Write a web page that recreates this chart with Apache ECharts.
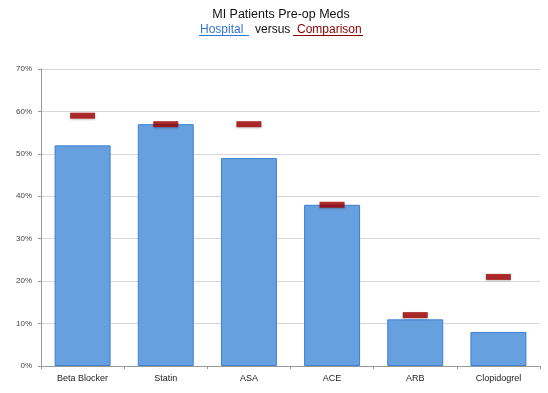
<!DOCTYPE html>
<html><head><meta charset="utf-8">
<script src="https://cdn.jsdelivr.net/npm/echarts@6/dist/echarts.min.js"></script>
<style>html,body{margin:0;padding:0;background:#fff}#c{width:548px;height:393px}</style>
</head><body><div id="c"></div>
<script>
var categories = ['Beta Blocker','Statin','ASA','ACE','ARB','Clopidogrel'];
var hospital = [52, 57, 49, 38, 11, 8];
var comparison = [59, 57, 57, 38, 12, 21];
var yTicks = [0,10,20,30,40,50,60,70];

var chart = echarts.init(document.getElementById('c'));
function txt(x, y, s, color, size, align) {
  return {type:'text',x:x,y:y,style:{text:s,fill:color,fontFamily:'Liberation Sans',
    fontSize:size,align:align||'left',verticalAlign:'middle'}};
}
chart.setOption({
  animation:false,
  backgroundColor:'#fff',
  graphic:[
    txt(281, 14.5, 'MI Patients Pre-op Meds', '#111', 12.5, 'center'),
    txt(200, 29.5, 'Hospital', '#3474d8', 12),
    txt(255, 29.5, 'versus', '#111', 12),
    txt(297, 29.5, 'Comparison', '#8b0000', 12),
    {type:'line',shape:{x1:199,y1:35.5,x2:249,y2:35.5},style:{stroke:'#3474d8',lineWidth:1}},
    {type:'line',shape:{x1:293,y1:35.5,x2:363,y2:35.5},style:{stroke:'#8b0000',lineWidth:1}}
  ],
  grid:{left:41,right:8,top:69,bottom:27},
  xAxis:{
    type:'category',data:categories,
    axisLine:{lineStyle:{color:'#999'}},
    axisTick:{show:true,length:3,lineStyle:{color:'#999'}},
    axisLabel:{color:'#222',fontSize:9,fontFamily:'Liberation Sans',margin:8}
  },
  yAxis:{
    type:'value',min:0,max:70,interval:10,
    axisLine:{show:true,lineStyle:{color:'#999'}},
    axisTick:{show:true,length:3,lineStyle:{color:'#999'}},
    splitLine:{lineStyle:{color:'#d8d8d8'}},
    axisLabel:{color:'#444',fontSize:8,fontFamily:'Liberation Sans',margin:9,
      formatter:function(v){return yTicks.indexOf(v)>=0? v+'%':'';}}
  },
  series:[
    {type:'bar',data:hospital,barWidth:56,
      itemStyle:{color:'#66a0de',borderColor:'#3f7fd2',borderWidth:1}},
    {type:'scatter',data:comparison,symbol:'rect',symbolSize:[25,6],z:5,
      itemStyle:{color:'#a00000',shadowColor:'rgba(0,0,0,0.3)',shadowBlur:2,shadowOffsetY:1}}
  ]
});
</script></body></html>
